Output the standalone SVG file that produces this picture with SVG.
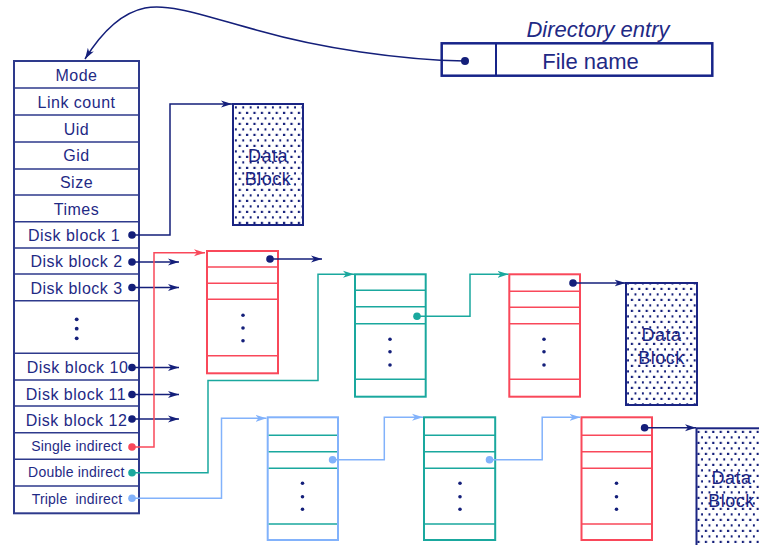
<svg xmlns="http://www.w3.org/2000/svg" width="759" height="545" viewBox="0 0 759 545">
<style>
.t{font-family:"Liberation Sans",Arial,sans-serif;font-size:16px;fill:#1f2a85;letter-spacing:0.5px;text-anchor:middle}
.ts{font-size:14px;letter-spacing:0.2px}
.row{stroke:#2e3a8c;stroke-width:1.6;fill:none}
.frame{fill:#fff;stroke:#2e3a8c;stroke-width:2}
.red{fill:#fff;stroke:#f9485a;stroke-width:2}
.redl{stroke:#f9485a;stroke-width:1.6}
.teal{fill:#fff;stroke:#1aa89e;stroke-width:2}
.teall{stroke:#1aa89e;stroke-width:1.6}
.blue{fill:#fff;stroke:#82b2fb;stroke-width:2}
.dot{fill:#141f7a}
.sdot{fill:#141f7a}
.data{fill:url(#dots);stroke:#1b2583;stroke-width:2}
.dtext{font-family:"Liberation Sans",Arial,sans-serif;font-size:18px;fill:#1b2583;text-anchor:middle;letter-spacing:0.5px}
.cn{fill:none;stroke:#141f7a;stroke-width:1.5}
.cr{fill:none;stroke:#f9485a;stroke-width:1.5}
.ct{fill:none;stroke:#1aa89e;stroke-width:1.5}
.cb{fill:none;stroke:#82b2fb;stroke-width:1.5}
</style>
<defs>
<pattern id="dots" patternUnits="userSpaceOnUse" x="0" y="0" width="7.4" height="11">
<rect width="7.4" height="11" fill="#fff"/>
<rect x="1.8" y="1.8" width="2.2" height="2.2" fill="#141f7a"/>
<rect x="5.5" y="7.3" width="2.2" height="2.2" fill="#141f7a"/>
</pattern>
<marker id="an" markerUnits="userSpaceOnUse" markerWidth="11" markerHeight="8" refX="11" refY="4" orient="auto"><path d="M0,0.5 L11,4 L0,7.5 L3,4 z" fill="#141f7a"/></marker>
<marker id="ar" markerUnits="userSpaceOnUse" markerWidth="11" markerHeight="8" refX="11" refY="4" orient="auto"><path d="M0,0.5 L11,4 L0,7.5 L3,4 z" fill="#f9485a"/></marker>
<marker id="at" markerUnits="userSpaceOnUse" markerWidth="11" markerHeight="8" refX="11" refY="4" orient="auto"><path d="M0,0.5 L11,4 L0,7.5 L3,4 z" fill="#1aa89e"/></marker>
<marker id="ab" markerUnits="userSpaceOnUse" markerWidth="11" markerHeight="8" refX="11" refY="4" orient="auto"><path d="M0,0.5 L11,4 L0,7.5 L3,4 z" fill="#82b2fb"/></marker>
</defs>

<g id="directory-entry">
<text x="598" y="37" style="font-family:'Liberation Sans',Arial,sans-serif;font-size:22px;font-style:italic;fill:#1f2a85;text-anchor:middle">Directory entry</text>
<rect x="441.7" y="43.3" width="270.6" height="32.4" fill="#fff" stroke="#172489" stroke-width="2.5"/>
<line x1="496" y1="43.3" x2="496" y2="75.7" stroke="#172489" stroke-width="2"/>
<text x="590.5" y="69" style="font-family:'Liberation Sans',Arial,sans-serif;font-size:22px;fill:#1f2a85;text-anchor:middle">File name</text>
</g>

<g id="inode">
<rect class="frame" x="14" y="61" width="125" height="452.3"/>
<path class="row" d="M14,88H139M14,115H139M14,142H139M14,169H139M14,195H139M14,221.7H139M14,248H139M14,274H139M14,300.7H139M14,353.3H139M14,380H139M14,406H139M14,432.7H139M14,459.3H139M14,486H139"/>
<text class="t" x="76.5" y="80.5">Mode</text>
<text class="t" x="76.5" y="107.5">Link count</text>
<text class="t" x="76.5" y="134.5">Uid</text>
<text class="t" x="76.5" y="161.3">Gid</text>
<text class="t" x="76.5" y="188">Size</text>
<text class="t" x="76.5" y="214.5">Times</text>
<text class="t" x="74" y="240.6">Disk block 1</text>
<text class="t" x="76.5" y="267">Disk block 2</text>
<text class="t" x="76.5" y="293.5">Disk block 3</text>
<circle class="sdot" cx="76.7" cy="319.3" r="1.9"/>
<circle class="sdot" cx="76.7" cy="328.7" r="1.9"/>
<circle class="sdot" cx="76.7" cy="338.3" r="1.9"/>
<text class="t" x="77.5" y="373">Disk block 10</text>
<text class="t" x="76" y="399.5">Disk block 11</text>
<text class="t" x="76.5" y="426">Disk block 12</text>
<text class="t ts" x="76.7" y="451.3">Single indirect</text>
<text class="t ts" x="76.3" y="477.3">Double indirect</text>
<text class="t ts" x="77" y="504" xml:space="preserve">Triple  indirect</text>
</g>

<g id="data-block-1">
<rect class="data" x="233" y="104" width="70" height="121"/>
<text class="dtext" x="268" y="161.5">Data</text>
<text class="dtext" x="268" y="184.5">Block</text>
</g>

<g id="data-block-2">
<rect class="data" x="626" y="283" width="71" height="122"/>
<text class="dtext" x="661.5" y="341">Data</text>
<text class="dtext" x="661.5" y="364">Block</text>
</g>

<g id="data-block-3">
<rect class="data" x="696.5" y="428.3" width="71" height="125"/>
<text class="dtext" x="731.5" y="483.5">Data</text>
<text class="dtext" x="731.5" y="506.5">Block</text>
</g>

<g id="single-indirect-block">
<rect class="red" x="207" y="251" width="71" height="122.3"/>
<path class="redl" d="M207,267H278M207,283.3H278M207,299.3H278M207,355.7H278"/>
<circle class="sdot" cx="243" cy="315.3" r="1.8"/>
<circle class="sdot" cx="243" cy="328" r="1.8"/>
<circle class="sdot" cx="243" cy="340.7" r="1.8"/>
</g>

<g id="double-indirect-block-1">
<rect class="teal" x="355" y="274.3" width="70.7" height="122.4"/>
<path class="teall" d="M355,290.3H425.7M355,306.7H425.7M355,323.7H425.7M355,379.3H425.7"/>
<circle class="sdot" cx="390" cy="339.3" r="1.8"/>
<circle class="sdot" cx="390" cy="351.7" r="1.8"/>
<circle class="sdot" cx="390" cy="365" r="1.8"/>
</g>

<g id="double-indirect-block-2">
<rect class="red" x="509.3" y="274.3" width="70.7" height="122.4"/>
<path class="redl" d="M509.3,291.3H580M509.3,307.3H580M509.3,323.7H580M509.3,379.3H580"/>
<circle class="sdot" cx="544" cy="339.3" r="1.8"/>
<circle class="sdot" cx="544" cy="351.7" r="1.8"/>
<circle class="sdot" cx="544" cy="365" r="1.8"/>
</g>

<g id="triple-indirect-block-1">
<rect class="blue" x="267.7" y="417.3" width="70.3" height="122.7"/>
<path class="teall" d="M268.7,435.3H337M268.7,451.7H337M268.7,468.3H337M268.7,524H337"/>
<circle class="sdot" cx="302.5" cy="483.3" r="1.8"/>
<circle class="sdot" cx="302.5" cy="496.7" r="1.8"/>
<circle class="sdot" cx="302.5" cy="509.3" r="1.8"/>
</g>

<g id="triple-indirect-block-2">
<rect class="teal" x="424" y="417.3" width="71.2" height="122.7"/>
<path class="teall" d="M424,435.3H495.2M424,451.7H495.2M424,468.3H495.2M424,524H495.2"/>
<circle class="sdot" cx="460" cy="483.3" r="1.8"/>
<circle class="sdot" cx="460" cy="496.7" r="1.8"/>
<circle class="sdot" cx="460" cy="509.3" r="1.8"/>
</g>

<g id="triple-indirect-block-3">
<rect class="red" x="581.5" y="417.3" width="70.5" height="122.7"/>
<path class="redl" d="M581.5,435.3H652M581.5,451.7H652M581.5,468.3H652M581.5,524H652"/>
<circle class="sdot" cx="616.5" cy="483.3" r="1.8"/>
<circle class="sdot" cx="616.5" cy="496.7" r="1.8"/>
<circle class="sdot" cx="616.5" cy="509.3" r="1.8"/>
</g>

<g id="connectors">
<path class="cn" d="M465,61 C400,60 320,48 260,31 C205,16 170,3 145,8 C120,13 100,35 85,59" marker-end="url(#an)"/>
<circle class="dot" cx="465" cy="61" r="4"/>
<path class="cn" d="M132,235 H170 V104 H232" marker-end="url(#an)"/>
<path class="cn" d="M132,262 H179" marker-end="url(#an)"/>
<path class="cn" d="M132,287.5 H179" marker-end="url(#an)"/>
<path class="cn" d="M132,367.5 H179" stroke-width="2" marker-end="url(#an)"/>
<path class="cn" d="M132,394.5 H179" marker-end="url(#an)"/>
<path class="cn" d="M132,419 H179" marker-end="url(#an)"/>
<circle class="dot" cx="132" cy="235" r="3.8"/>
<circle class="dot" cx="132" cy="262" r="3.8"/>
<circle class="dot" cx="132" cy="287.5" r="3.8"/>
<circle class="dot" cx="132" cy="367.5" r="3.8"/>
<circle class="dot" cx="132" cy="394.5" r="3.8"/>
<circle class="dot" cx="132" cy="419" r="3.8"/>
<path class="cr" d="M132,447 H154 V252.7 H205" marker-end="url(#ar)"/>
<circle cx="132" cy="447" r="3.8" fill="#f9485a"/>
<path class="cn" d="M270,259 H322" marker-end="url(#an)"/>
<circle class="dot" cx="270" cy="259" r="3.8"/>
<path class="ct" d="M132,472.7 H208 V380.5 H318 V274.3 H354" marker-end="url(#at)"/>
<circle cx="132" cy="472.7" r="3.8" fill="#1aa89e"/>
<path class="ct" d="M417,316.3 H470 V274.3 H508.5" marker-end="url(#at)"/>
<circle cx="417" cy="316.3" r="3.8" fill="#1aa89e"/>
<path class="cn" d="M573,283 H625.5" marker-end="url(#an)"/>
<circle class="dot" cx="573" cy="283" r="3.8"/>
<path class="cb" d="M132,498.3 H221.5 V418.3 H266.5" marker-end="url(#ab)"/>
<circle cx="132" cy="498.3" r="3.8" fill="#82b2fb"/>
<path class="cb" d="M332.6,459.7 H384.3 V417.3 H423" marker-end="url(#ab)"/>
<circle cx="332.6" cy="459.7" r="3.8" fill="#82b2fb"/>
<path class="cb" d="M489.5,459.7 H542.2 V417.3 H580.5" marker-end="url(#ab)"/>
<circle cx="489.5" cy="459.7" r="3.8" fill="#82b2fb"/>
<path class="cn" d="M644.6,427.7 H696" marker-end="url(#an)"/>
<circle class="dot" cx="644.6" cy="427.7" r="3.8"/>
</g>
</svg>
